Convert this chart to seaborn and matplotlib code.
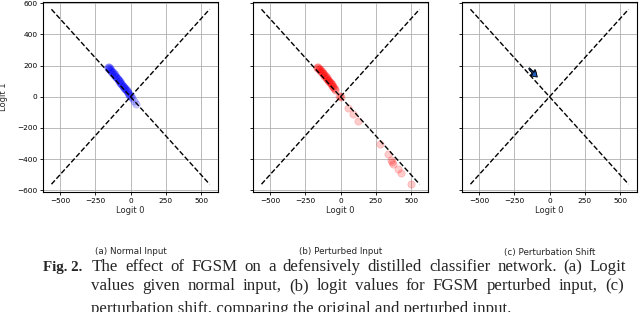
import numpy as np
import pandas as pd
import seaborn as sns
import matplotlib
matplotlib.use('Agg')
import matplotlib.pyplot as plt

# logits (logit 0, logit 1)
normal_l0 = [-162, -158, -155, -150, -147, -143, -140, -136, -132, -128, -125, -120,
             -116, -112, -108, -104, -100, -96, -92, -88, -84, -80, -76, -72, -68,
             -64, -60, -56, -52, -48, -44, -40, -36, -32, -28, -24, -20, -16, -12,
             -8, -4, 0, 10, 25, 40]
normal_l1 = [192, 185, 190, 178, 183, 172, 168, 170, 160, 155, 158, 148,
             140, 143, 132, 126, 128, 118, 112, 115, 104, 98, 100, 90, 84,
             86, 76, 70, 72, 62, 56, 58, 48, 42, 44, 34, 28, 24, 18,
             12, 6, 2, -10, -28, -46]

pert_l0 = [-170, -165, -160, -155, -150, -146, -142, -138, -134, -130, -126, -122,
           -118, -114, -110, -106, -102, -98, -94, -90, -86, -82, -78, -74, -70,
           -66, -62, -58, -54, -50, -46, -42, -38, -8, -3, 2,
           54, 89, 124, 277, 336, 359, 365, 371, 406, 430, 500]
pert_l1 = [193, 186, 190, 180, 175, 178, 168, 162, 165, 155, 150, 152,
           142, 136, 138, 128, 122, 124, 114, 108, 110, 100, 94, 96, 86,
           80, 82, 72, 66, 62, 56, 50, 46, 6, 2, -3,
           -69, -113, -154, -304, -368, -407, -418, -428, -460, -486, -557]

# perturbation shift arrows: start and delta
shift_x = [-145, -138]
shift_y = [182, 172]
shift_dx = [55, 52]
shift_dy = [-50, -46]

diag_x = [-560, 560]
diag_up = [-560, 560]
diag_down = [560, -560]

xticks = [-500, -250, 0, 250, 500]
yticks = [-600, -400, -200, 0, 200, 400, 600]
subtitles = ['(a) Normal Input', '(b) Perturbed Input', '(c) Perturbation Shift']

sns.set_style('whitegrid', {
    'axes.edgecolor': 'black',
    'grid.color': '#b0b0b0',
    'xtick.bottom': True,
    'ytick.left': True,
})
plt.rcParams['font.family'] = ['DejaVu Sans']
plt.rcParams['axes.linewidth'] = 0.8
plt.rcParams['grid.linewidth'] = 0.6
plt.rcParams['xtick.major.size'] = 2.5
plt.rcParams['ytick.major.size'] = 2.5
plt.rcParams['xtick.major.width'] = 0.6
plt.rcParams['ytick.major.width'] = 0.6
plt.rcParams['xtick.major.pad'] = 1.5
plt.rcParams['ytick.major.pad'] = 1.5

W, H = 640, 312
fig = plt.figure(figsize=(6.4, 3.12), dpi=100)

lefts = [43, 253, 462]
axes = []
for l in lefts:
    ax = fig.add_axes([l / W, (H - 192) / H, 175 / W, 190.5 / H])
    axes.append(ax)

df_norm = pd.DataFrame({'l0': normal_l0, 'l1': normal_l1})
df_pert = pd.DataFrame({'l0': pert_l0, 'l1': pert_l1})

sns.scatterplot(data=df_norm, x='l0', y='l1', ax=axes[0], color='blue',
                edgecolor='blue', alpha=0.2, s=28, linewidth=0.5, zorder=3)
sns.scatterplot(data=df_pert, x='l0', y='l1', ax=axes[1], color='red',
                edgecolor='red', alpha=0.2, s=28, linewidth=0.5, zorder=3)

for i in range(len(shift_x)):
    axes[2].arrow(shift_x[i], shift_y[i], shift_dx[i], shift_dy[i],
                  width=10, head_width=48, head_length=38, fc='#1f5fbf',
                  ec='black', lw=0.6, length_includes_head=True, zorder=3)

for i, ax in enumerate(axes):
    ax.plot(diag_x, diag_up, '--', color='black', lw=1.0, zorder=4)
    ax.plot(diag_x, diag_down, '--', color='black', lw=1.0, zorder=4)
    ax.set_xlim(-620, 620)
    ax.set_ylim(-610, 610)
    ax.set_xticks(xticks)
    ax.set_yticks(yticks)
    ax.tick_params(labelsize=5.3, colors='black')
    ax.set_xlabel('Logit 0', fontsize=6, labelpad=2)
    if i == 0:
        ax.set_ylabel('Logit 1', fontsize=6)
        ax.yaxis.set_label_coords(-0.2, 0.5)
    else:
        ax.set_ylabel('')
        ax.set_yticklabels([])
    for sp in ax.spines.values():
        sp.set_color('black')
    fig.text((lefts[i] + 87.5) / W, 1 - 252 / H, subtitles[i], fontsize=6.3,
             ha='center', va='center')

# caption, justified like the paper
serif = 'Liberation Serif'
cap_size = 12.2
renderer = fig.canvas.get_renderer()


def justify(words, x0, x1, ybase):
    texts = [fig.text(0, 1 - ybase / H, w, fontsize=cap_size, family=serif,
                      va='baseline', ha='left') for w in words]
    widths = [t.get_window_extent(renderer).width for t in texts]
    gap = (x1 - x0 - sum(widths)) / (len(words) - 1)
    x = x0
    for t, w in zip(texts, widths):
        t.set_x(x / W)
        x += w + gap


fig.text(43 / W, 1 - 271 / H, 'Fig. 2.', fontsize=10.8, family=serif,
         weight='bold', va='baseline', ha='left')
justify('The effect of FGSM on a defensively distilled classifier network. (a) Logit'.split(),
        92, 626, 271)
justify('values given normal input, (b) logit values for FGSM perturbed input, (c)'.split(),
        91, 624, 290)
fig.text(91 / W, 1 - 313 / H, 'perturbation shift, comparing the original and perturbed input.',
         fontsize=cap_size, family=serif, va='baseline', ha='left')

fig.savefig('out.png', dpi=100)
